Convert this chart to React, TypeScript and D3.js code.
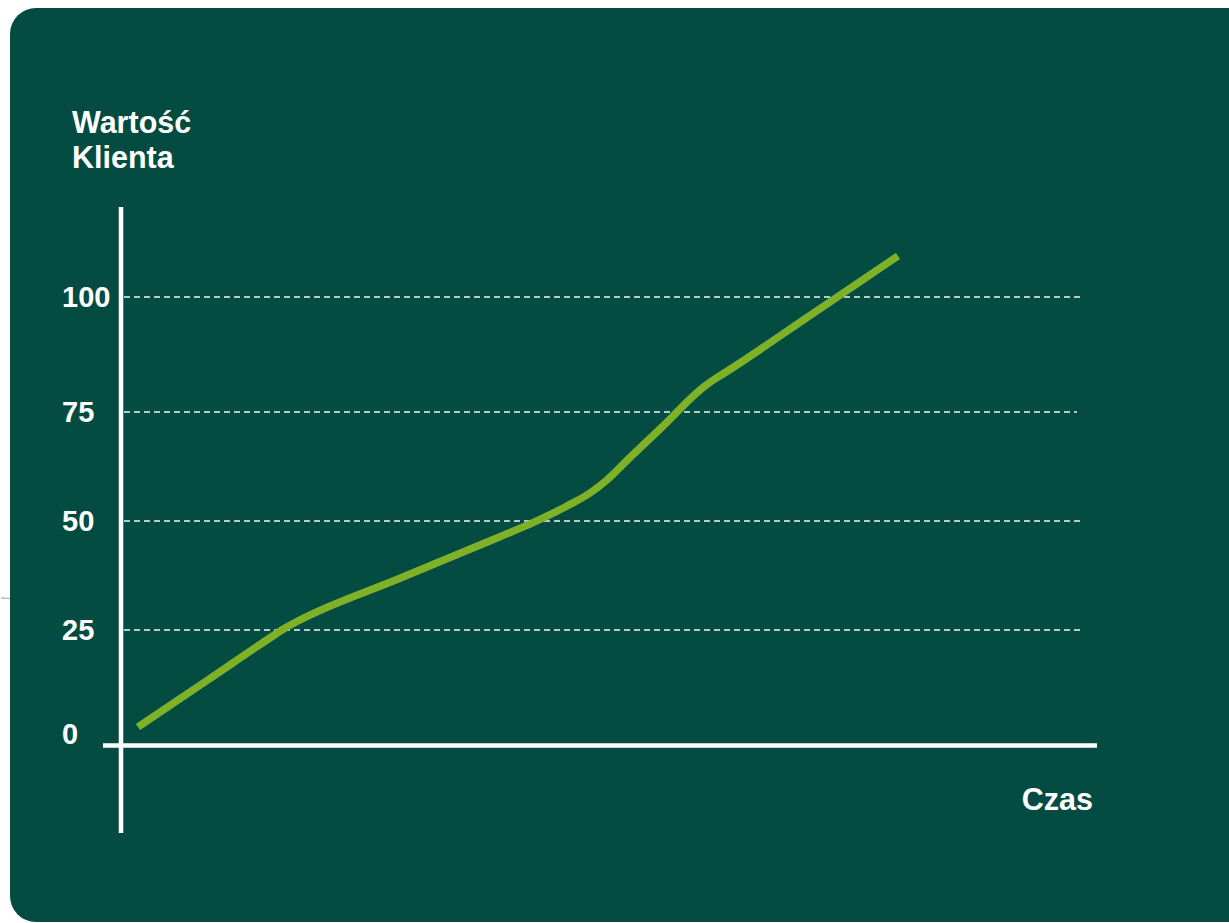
import React from "react";
import * as d3 from "d3";

// Data
const tickValues = [0, 25, 50, 75, 100];
const tickLabels = ["0", "25", "50", "75", "100"];
const gridValues = [25, 50, 75, 100];
const timeValues = [1.64, 8.72, 15.79, 16.82, 18.05, 28.51, 38.77, 42.15, 45.64, 48.0, 49.74, 51.79, 55.18, 59.79, 60.72, 61.95, 70.77, 79.59];
const clientValues = [3.91, 14.02, 24.13, 25.57, 27.06, 36.86, 46.4, 49.61, 53.44, 56.42, 59.4, 63.88, 71.1, 80.65, 82.07, 83.7, 96.3, 108.91];
const yAxisTitle = ["Wartość", "Klienta"];
const xAxisTitle = "Czas";

const W = 1229;
const H = 923;
const FONT = "'Liberation Sans', Arial, Helvetica, sans-serif";

export default function App() {
  const x = d3.scaleLinear().domain([0, 100]).range([122, 1097]);
  const y = d3.scaleLinear().domain([0, 25, 50, 75, 100]).range([745, 630, 521, 412, 297]);

  const pts = timeValues.map((t, i) => [t, clientValues[i]] as [number, number]);
  const line = d3
    .line<[number, number]>()
    .x((d) => x(d[0]))
    .y((d) => y(d[1]))
    .curve(d3.curveMonotoneX);

  const gridEnds = [1080, 1082, 1077, 1080];

  return (
    <svg
      width={W}
      height={H}
      style={{ position: "absolute", left: 0, top: 0, display: "block" }}
    >
      <rect x={0} y={0} width={W} height={H} fill="#ffffff" />
      <line x1={1} x2={10} y1={598} y2={598.5} stroke="#bdbdbd" strokeWidth={1.5} />
      <rect x={10} y={8} width={1280} height={914} rx={26} ry={26} fill="#044c41" />

      {/* gridlines */}
      {gridValues.map((v, i) => (
        <line
          key={v}
          x1={124}
          x2={gridEnds[i]}
          y1={y(v)}
          y2={y(v)}
          stroke="#eef3f1"
          strokeWidth={1.6}
          strokeDasharray="6,4"
        />
      ))}

      {/* axes */}
      <line x1={121} x2={121} y1={207} y2={833} stroke="#ffffff" strokeWidth={4.5} />
      <line x1={103} x2={1097} y1={745.5} y2={745.5} stroke="#ffffff" strokeWidth={4.5} />

      {/* tick labels */}
      {tickValues.map((v, i) => (
        <text
          key={v}
          x={62}
          y={v === 0 ? y(v) - 1 : y(v) + 10}
          fill="#ffffff"
          fontFamily={FONT}
          fontWeight="bold"
          fontSize={29}
        >
          {tickLabels[i]}
        </text>
      ))}

      {/* series */}
      <path
        d={line(pts) || ""}
        fill="none"
        stroke="#7fb128"
        strokeWidth={7.5}
        strokeLinejoin="round"
      />

      {/* axis titles */}
      {yAxisTitle.map((t, i) => (
        <text
          key={t}
          x={72}
          y={133 + i * 35}
          fill="#ffffff"
          fontFamily={FONT}
          fontWeight="bold"
          fontSize={30.5}
        >
          {t}
        </text>
      ))}
      <text
        x={1093}
        y={810}
        textAnchor="end"
        fill="#ffffff"
        fontFamily={FONT}
        fontWeight="bold"
        fontSize={30.5}
      >
        {xAxisTitle}
      </text>
    </svg>
  );
}
